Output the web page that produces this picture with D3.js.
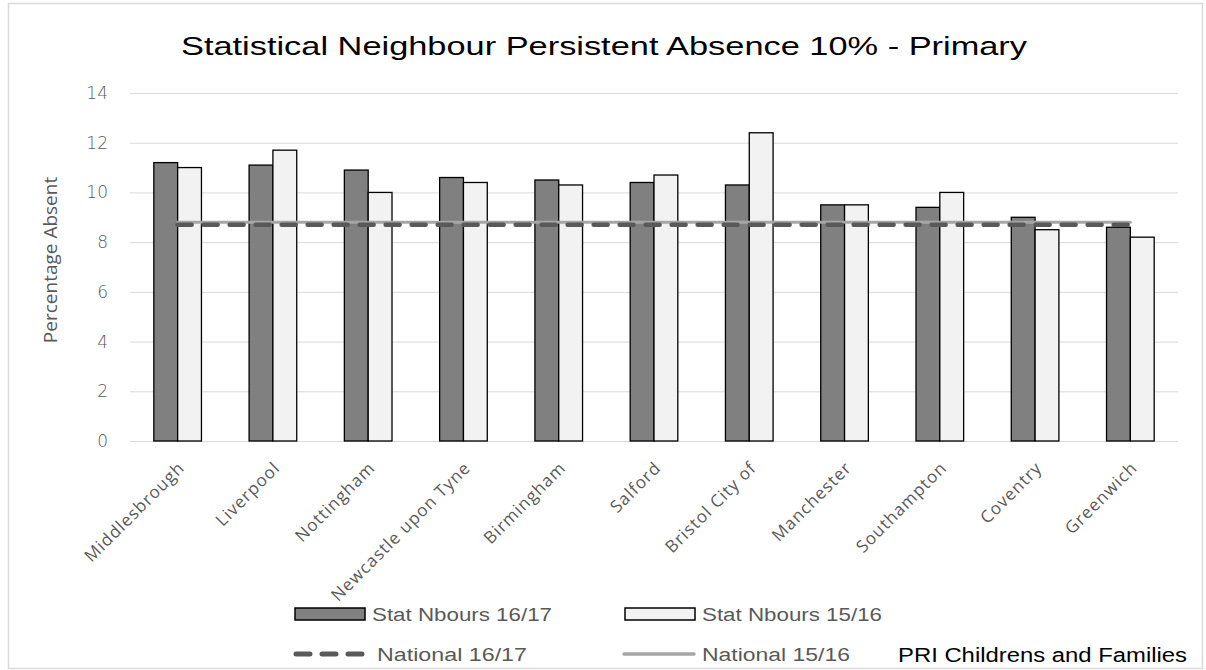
<!DOCTYPE html>
<meta charset="utf-8">
<style>
body { margin: 0; background: #fff; }
svg { font-family: "Liberation Sans", Arial, sans-serif; }
.grid line { stroke: #d9d9d9; stroke-width: 1; }
.grid path { display: none; }
.y.axis path, .y.axis line, .x.axis path, .x.axis line { display: none; }
.axis text { fill: #595959; }
</style>
<body>
<script src="https://cdn.jsdelivr.net/npm/d3@7/dist/d3.min.js"></script>
<script>
// data
var areas = ["Middlesbrough", "Liverpool", "Nottingham", "Newcastle upon Tyne", "Birmingham",
             "Salford", "Bristol City of", "Manchester", "Southampton", "Coventry", "Greenwich"];
var nbours1617 = [11.2, 11.1, 10.9, 10.6, 10.5, 10.4, 10.3, 9.5, 9.4, 9.0, 8.6];
var nbours1516 = [11.0, 11.7, 10.0, 10.4, 10.3, 10.7, 12.4, 9.5, 10.0, 8.5, 8.2];
var national1617 = 8.7;
var national1516 = 8.8;
var yTicks = [0, 2, 4, 6, 8, 10, 12, 14];

// set the dimensions and margins of the graph
var W = 1206, H = 670;
var margin = {top: 93, right: 28, bottom: 229, left: 130},
    width = W - margin.left - margin.right,
    height = H - margin.top - margin.bottom;

var svg = d3.select("body").append("svg")
    .attr("width", W)
    .attr("height", H);

// outer border
svg.append("rect")
    .attr("x", 8.5).attr("y", 3.5)
    .attr("width", 1194).attr("height", 665)
    .attr("fill", "none").attr("stroke", "#d9d9d9").attr("stroke-width", 1.5);

// title
svg.append("text")
    .attr("x", 604).attr("y", 55)
    .attr("text-anchor", "middle")
    .attr("textLength", 846).attr("lengthAdjust", "spacingAndGlyphs")
    .style("font-size", "25px").style("fill", "#000")
    .text("Statistical Neighbour Persistent Absence 10% - Primary");

var g = svg.append("g")
    .attr("transform", "translate(" + margin.left + "," + margin.top + ")");

// set the ranges
var x = d3.scaleBand()
    .domain(areas)
    .range([0, width])
    .paddingInner(0.5)
    .paddingOuter(0.25);
var x1 = d3.scaleBand()
    .domain(["a", "b"])
    .range([0, x.bandwidth()]);
var y = d3.scaleLinear()
    .domain([0, 14])
    .range([height, 0]);

// gridlines
g.append("g")
    .attr("class", "grid")
    .call(d3.axisLeft(y).tickValues(yTicks).tickSize(-width).tickFormat(""));

// y axis
g.append("g")
    .attr("class", "y axis")
    .call(d3.axisLeft(y).tickValues(yTicks).tickSize(0).tickPadding(22))
    .selectAll("text")
    .style("font-size", "17px")
    .style("font-family", "'DejaVu Sans', sans-serif")
    .style("font-weight", "200");

svg.append("text")
    .attr("transform", "translate(57,260) rotate(-90)")
    .attr("text-anchor", "middle")
    .style("font-size", "19px").style("fill", "#595959")
    .style("font-family", "'Open Sans', sans-serif")
    .text("Percentage Absent");

// bars
var rows = areas.map(function(a, i) {
  return {area: a, vals: [{k: "a", v: nbours1617[i]}, {k: "b", v: nbours1516[i]}]};
});
var fills = {a: "#808080", b: "#f2f2f2"};

g.selectAll(".grp")
    .data(rows)
  .enter().append("g")
    .attr("class", "grp")
    .attr("transform", function(d) { return "translate(" + x(d.area) + ",0)"; })
  .selectAll("rect")
    .data(function(d) { return d.vals; })
  .enter().append("rect")
    .attr("x", function(d) { return x1(d.k); })
    .attr("width", x1.bandwidth())
    .attr("y", function(d) { return y(d.v); })
    .attr("height", function(d) { return height - y(d.v); })
    .attr("fill", function(d) { return fills[d.k]; })
    .attr("stroke", "#000")
    .attr("stroke-width", 1.3);

// national lines, from first to last category centre
var x0 = x(areas[0]) + x.bandwidth() / 2,
    xN = x(areas[areas.length - 1]) + x.bandwidth() / 2;

g.append("line")
    .attr("x1", x0).attr("x2", xN)
    .attr("y1", y(national1516)).attr("y2", y(national1516))
    .attr("stroke", "#a6a6a6").attr("stroke-width", 3)
    .attr("stroke-linecap", "round");

g.append("line")
    .attr("x1", x0).attr("x2", xN)
    .attr("y1", y(national1617)).attr("y2", y(national1617))
    .attr("stroke", "#595959").attr("stroke-width", 4.5)
    .attr("stroke-dasharray", "14,12")
    .attr("stroke-linecap", "round");

// x labels
g.append("g")
    .attr("class", "x axis")
    .attr("transform", "translate(0," + height + ")")
    .call(d3.axisBottom(x).tickSize(0).tickPadding(0))
    .selectAll("text")
    .style("font-size", "17px")
    .style("font-family", "'Open Sans', sans-serif")
    .style("letter-spacing", "1px")
    .style("text-anchor", "end")
    .attr("dy", 0)
    .attr("transform", "translate(8,28) rotate(-45)");

// legend
var leg = svg.append("g").style("font-size", "18px").style("fill", "#595959");
leg.append("rect").attr("x", 295).attr("y", 608).attr("width", 70).attr("height", 12)
    .attr("fill", "#808080").attr("stroke", "#000").attr("stroke-width", 1.5);
leg.append("text").attr("x", 372).attr("y", 621)
    .attr("textLength", 180).attr("lengthAdjust", "spacingAndGlyphs").text("Stat Nbours 16/17");
leg.append("rect").attr("x", 625).attr("y", 608).attr("width", 70).attr("height", 12)
    .attr("fill", "#f2f2f2").attr("stroke", "#000").attr("stroke-width", 1.5);
leg.append("text").attr("x", 702).attr("y", 621)
    .attr("textLength", 180).attr("lengthAdjust", "spacingAndGlyphs").text("Stat Nbours 15/16");

leg.append("line").attr("x1", 296).attr("x2", 364).attr("y1", 654).attr("y2", 654)
    .attr("stroke", "#595959").attr("stroke-width", 5)
    .attr("stroke-dasharray", "14,12").attr("stroke-linecap", "round");
leg.append("text").attr("x", 377).attr("y", 661)
    .attr("textLength", 150).attr("lengthAdjust", "spacingAndGlyphs").text("National 16/17");
leg.append("line").attr("x1", 624).attr("x2", 694).attr("y1", 654).attr("y2", 654)
    .attr("stroke", "#a6a6a6").attr("stroke-width", 3.5).attr("stroke-linecap", "round");
leg.append("text").attr("x", 702).attr("y", 661)
    .attr("textLength", 148).attr("lengthAdjust", "spacingAndGlyphs").text("National 15/16");

svg.append("text")
    .attr("x", 898).attr("y", 662)
    .attr("textLength", 289).attr("lengthAdjust", "spacingAndGlyphs")
    .style("font-size", "20px").style("fill", "#000")
    .text("PRI Childrens and Families");
</script>
</body>
